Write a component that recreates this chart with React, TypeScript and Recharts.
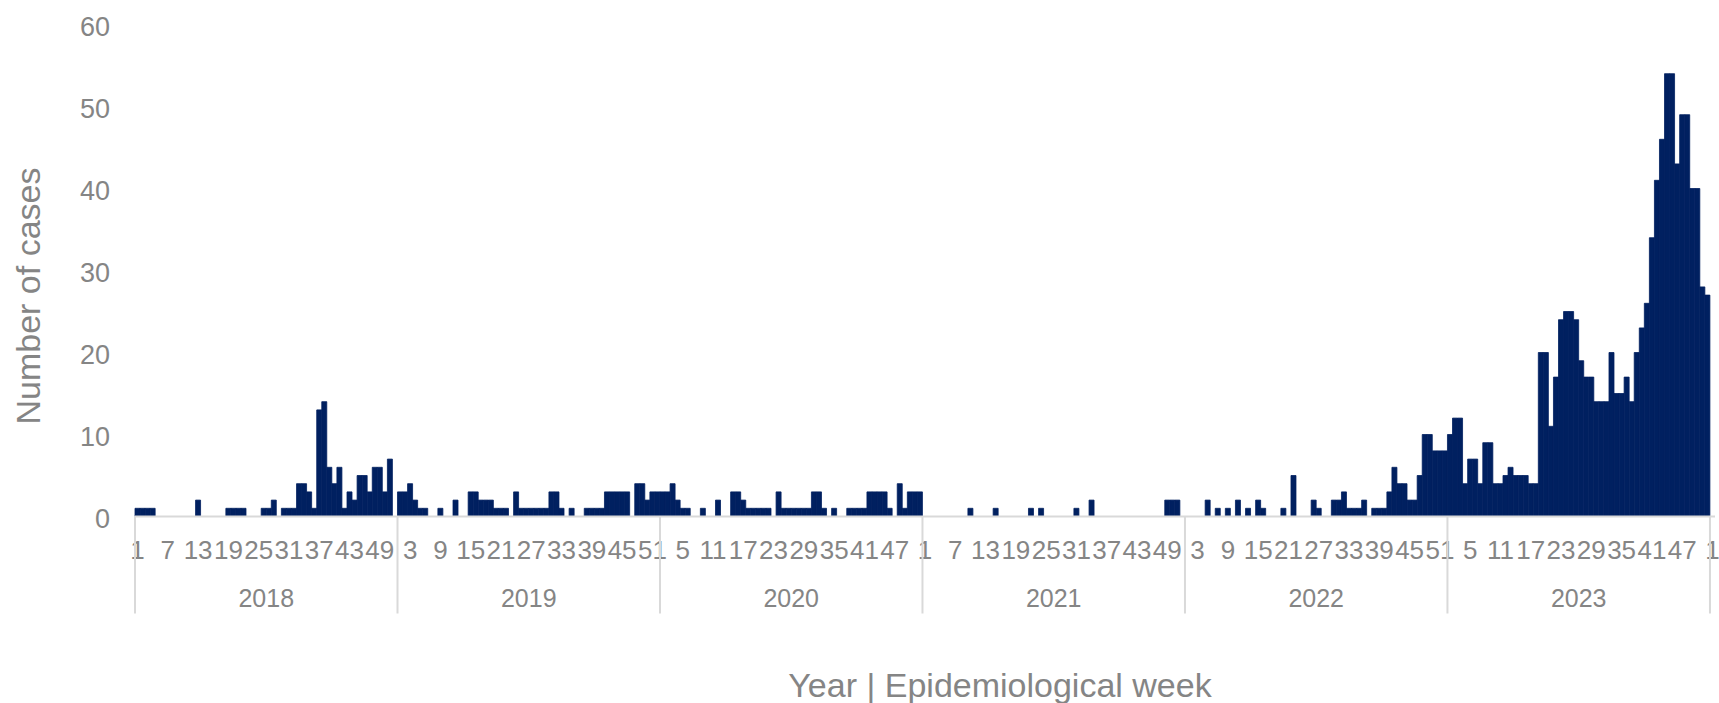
import React from 'react';
import { BarChart, Bar, XAxis, YAxis, Label } from 'recharts';

// ---- data ----
const years = ['2018', '2019', '2020', '2021', '2022', '2023', '2024'];

const cases2018 = [1,1,1,1,0,0,0,0,0,0,0,0,2,0,0,0,0,0,1,1,1,1,0,0,0,1,1,2,0,1,1,1,4,4,3,1,13,14,6,4,6,1,3,2,5,5,3,6,6,3,7,0];
const cases2019 = [3,3,4,2,1,1,0,0,1,0,0,2,0,0,3,3,2,2,2,1,1,1,0,3,1,1,1,1,1,1,3,3,1,0,1,0,0,1,1,1,1,3,3,3,3,3,0,4,4,2,3,3];
const cases2020 = [3,3,4,2,1,1,0,0,1,0,0,2,0,0,3,3,2,1,1,1,1,1,0,3,1,1,1,1,1,1,3,3,1,0,1,0,0,1,1,1,1,3,3,3,3,1,0,4,1,3,3,3];
const cases2021 = [0,0,0,0,0,0,0,0,0,1,0,0,0,0,1,0,0,0,0,0,0,1,0,1,0,0,0,0,0,0,1,0,0,2,0,0,0,0,0,0,0,0,0,0,0,0,0,0,2,2,2,0];
const cases2022 = [0,0,0,0,2,0,1,0,1,0,2,0,1,0,2,1,0,0,0,1,0,5,0,0,0,2,1,0,0,2,2,3,1,1,1,2,0,1,1,1,3,6,4,4,2,2,5,10,10,8,8,8];
const cases2023 = [10,12,12,4,7,7,4,9,9,4,4,5,6,5,5,5,4,4,20,20,11,17,24,25,25,24,19,17,17,14,14,14,20,15,15,17,14,20,23,26,34,41,46,54,54,43,49,49,40,40,28,27];
const cases2024 = [0];

const seriesByYear = [cases2018, cases2019, cases2020, cases2021, cases2022, cases2023, cases2024];
const yTicks = [0, 10, 20, 30, 40, 50, 60];
const weekLabelEvery = 6;

type Row = { key: string; year: string; week: number; idx: number; cases: number; yearLen: number };
const data: Row[] = [];
seriesByYear.forEach((arr, yi) => {
  arr.forEach((v, wi) => {
    data.push({ key: `${years[yi]}-${wi + 1}`, year: years[yi], week: wi + 1, idx: data.length, cases: v, yearLen: arr.length });
  });
});
const byKey: Record<string, Row> = {};
data.forEach((d) => { byKey[d.key] = d; });

// ---- layout ----
const W = 1719;
const H = 703;
const M = { top: 24.5, right: 4, left: 0, bottom: 86.5 };
const Y_AXIS_W = 135;
const PLOT_W = W - M.left - M.right - Y_AXIS_W;
const BAND = PLOT_W / data.length;
const AXIS_Y = H - M.bottom - 40 - 60;

const GRAY = '#858585';
const LINE = '#d9d9d9';
const NAVY = '#002060';
const FONT = '"Liberation Sans", Arial, sans-serif';

const YTick = (props: any) => {
  const { y, payload } = props;
  return (
    <text x={110} y={y + 2} textAnchor="end" dominantBaseline="central" fill={GRAY} fontSize={27} fontFamily={FONT}>
      {payload.value}
    </text>
  );
};

const WeekTick = (props: any) => {
  const { x, payload } = props;
  const d = byKey[payload.value];
  if (!d || d.idx % weekLabelEvery !== 0) return <g />;
  return (
    <text x={x} y={AXIS_Y + 33} textAnchor="middle" dominantBaseline="central" fill={GRAY} fontSize={26} fontFamily={FONT}>
      {d.week}
    </text>
  );
};

const YearTick = (props: any) => {
  const { x, payload } = props;
  const d = byKey[payload.value];
  if (!d) return <g />;
  const parts: React.ReactNode[] = [];
  if (d.week === 1) {
    parts.push(<line key="sep" x1={x - BAND / 2} x2={x - BAND / 2} y1={AXIS_Y} y2={AXIS_Y + 97} stroke={LINE} strokeWidth={2} />);
  }
  if (d.yearLen >= 26 && d.week === Math.floor(d.yearLen / 2)) {
    parts.push(
      <text key="yr" x={x + BAND / 2} y={AXIS_Y + 81} textAnchor="middle" dominantBaseline="central" fill={GRAY} fontSize={25} fontFamily={FONT}>
        {d.year}
      </text>
    );
  }
  return <g>{parts}</g>;
};

export default function App() {
  return (
    <div style={{ position: 'absolute', left: 0, top: 0, width: W, height: H, background: '#fff' }}>
      <BarChart width={W} height={H} data={data} margin={M} barCategoryGap={0} barGap={0}>
        <YAxis
          domain={[0, 60]}
          ticks={yTicks}
          axisLine={false}
          tickLine={false}
          width={Y_AXIS_W}
          tick={<YTick />}
          interval={0}
        >
          <Label
            content={() => (
              <text x={28} y={296} transform="rotate(-90 28 296)" textAnchor="middle" dominantBaseline="central" fill={GRAY} fontSize={34} fontFamily={FONT}>
                Number of cases
              </text>
            )}
          />
        </YAxis>
        <XAxis
          dataKey="key"
          interval={0}
          tickLine={false}
          axisLine={{ stroke: LINE, strokeWidth: 2 }}
          tick={<WeekTick />}
          height={40}
        />
        <XAxis
          xAxisId="year"
          dataKey="key"
          interval={0}
          tickLine={false}
          axisLine={false}
          tick={<YearTick />}
          height={60}
        >
          <Label
            content={() => (
              <text x={1000} y={685} textAnchor="middle" dominantBaseline="central" fill={GRAY} fontSize={34} fontFamily={FONT}>
                Year | Epidemiological week
              </text>
            )}
          />
        </XAxis>
        <Bar dataKey="cases" fill={NAVY} stroke={NAVY} strokeWidth={0.8} isAnimationActive={false} />
      </BarChart>
    </div>
  );
}
